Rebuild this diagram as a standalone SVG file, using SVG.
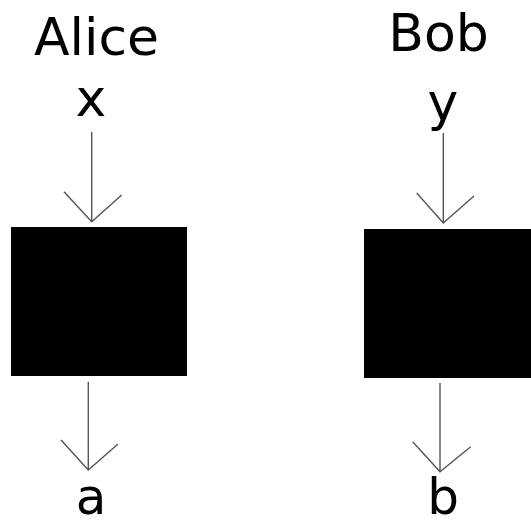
<svg xmlns="http://www.w3.org/2000/svg" width="531" height="525" viewBox="0 0 531 525">
<style>
.t{font-family:"DejaVu Sans",Verdana,sans-serif;font-size:52px;fill:#000;text-anchor:middle}
.l{font-family:"DejaVu Sans",Verdana,sans-serif;font-size:52px;fill:#000;text-anchor:middle}
.o{font-family:"DejaVu Sans",Verdana,sans-serif;font-size:50px;fill:#000;text-anchor:middle}
.c{stroke:#555;stroke-width:1.4;fill:none}
.box{fill:#000}
</style>
<rect width="531" height="525" fill="#fff"/>
<g id="alice-title"><text class="t" x="96.5" y="55">Alice</text></g>
<g id="bob-title"><text class="t" x="438.5" y="51">Bob</text></g>
<g id="x-label"><text class="l" x="91" y="116">x</text></g>
<g id="y-label"><text class="l" x="443" y="120">y</text></g>
<g id="alice-box"><rect class="box" x="11" y="227" width="176" height="149"/></g>
<g id="bob-box"><rect class="box" x="364" y="229" width="167" height="149"/></g>
<g id="a-label"><text class="o" x="91" y="514">a</text></g>
<g id="b-label"><text class="o" x="443" y="514">b</text></g>
<g id="connectors">
<path class="c" d="M91.7,131.7 V221.7 M64,191.7 L91.7,221.7 L121.7,195"/>
<path class="c" d="M443.3,133 V223 M416.7,193 L443.3,223 L474,196"/>
<path class="c" d="M88.3,381.7 V470 M61,440 L88.3,470 L118,444"/>
<path class="c" d="M440,383 V471.7 M412.7,441.7 L440,471.7 L470.7,446.7"/>
</g>
</svg>
